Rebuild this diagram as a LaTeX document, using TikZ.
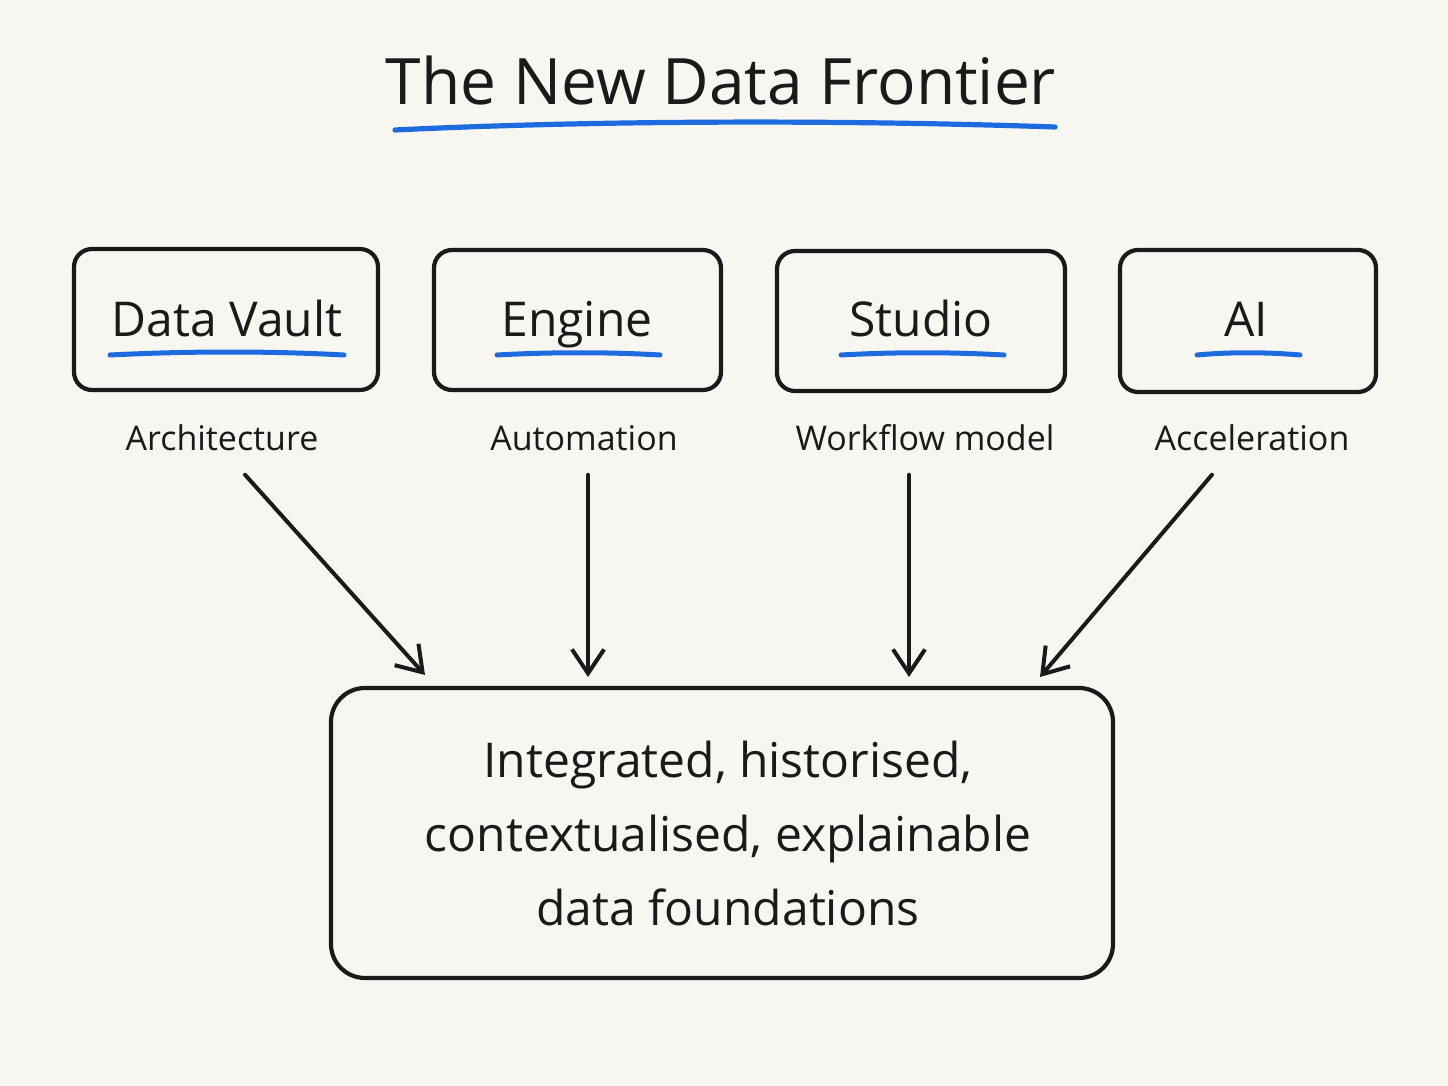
\documentclass[tikz,border=0pt]{standalone}
\usepackage{fontspec}
\setmainfont{Open Sans}
\usetikzlibrary{arrows.meta}
\definecolor{bg}{HTML}{F8F6F1}
\definecolor{ink}{HTML}{1A1A1A}
\definecolor{pen}{HTML}{1E6BE0}
\begin{document}
\begin{tikzpicture}[x=0.5pt,y=-0.5pt,
  box/.style={draw=ink,line width=2.1pt,rounded corners=9pt,inner sep=0pt},
  boxtext/.style={text=ink,font=\fontsize{24}{28}\selectfont,inner sep=0pt,anchor=base},
  labtext/.style={text=ink,font=\fontsize{17}{22}\selectfont,inner sep=0pt,anchor=base},
  penline/.style={draw=pen,line width=2.5pt,line cap=round},
  arr/.style={draw=ink,line width=2pt,line cap=round,-{Straight Barb[length=12pt,width=16pt,line width=2pt]}}]
\fill[bg] (0,0) rectangle (1448,1086);
\useasboundingbox (0,0) rectangle (1448,1086);
% title
\node[text=ink,font=\fontsize{32}{40}\selectfont,inner sep=0pt,anchor=base] (title) at (721,105) {The New Data Frontier};
\draw[penline,line width=2.6pt] (395,130) .. controls (600,120) and (850,120) .. (1055,127);
% boxes
\node[box,minimum width=152pt,minimum height=70.5pt] (b1) at (226,319.5) {};
\node[box,minimum width=143.5pt,minimum height=70pt] (b2) at (577.5,320) {};
\node[box,minimum width=144pt,minimum height=70pt] (b3) at (921,321) {};
\node[box,minimum width=128pt,minimum height=71pt] (b4) at (1248,321) {};
\node[boxtext] (t1) at (227,336) {Data Vault};
\node[boxtext] (t2) at (577,336) {Engine};
\node[boxtext] (t3) at (921,336) {Studio};
\node[boxtext] (t4) at (1246,336) {AI};
\draw[penline] (110,355) .. controls (190,351) and (270,351) .. (344,355);
\draw[penline] (497,355) .. controls (550,352) and (610,352) .. (660,355);
\draw[penline] (841,355) .. controls (895,352) and (950,352) .. (1004,355);
\draw[penline] (1197,355) .. controls (1230,352) and (1265,352) .. (1300,355);
% labels
\node[labtext] (l1) at (222,450) {Architecture};
\node[labtext] (l2) at (584,450) {Automation};
\node[labtext] (l3) at (925,450) {Workflow model};
\node[labtext] (l4) at (1252,450) {Acceleration};
% bottom box
\node[box,rounded corners=17pt,minimum width=391pt,minimum height=145pt] (out) at (722,833) {};
\node[text=ink,font=\fontsize{24}{37}\selectfont,inner sep=0pt,align=center] (outtext) at (728,833)
  {Integrated, historised,\\contextualised, explainable\\data foundations};
% arrows
\coordinate (e1) at (425,675);
\coordinate (e2) at (588,677);
\coordinate (e3) at (909,677);
\coordinate (e4) at (1040,677);
\draw[arr] ([xshift=11.5pt,yshift=-12pt]l1.south) -- (e1);
\draw[arr] ([xshift=2pt,yshift=-12pt]l2.south) -- (e2);
\draw[arr] ([xshift=-8pt,yshift=-12pt]l3.south) -- (e3);
\draw[arr] ([xshift=-20pt,yshift=-12pt]l4.south) -- (e4);
\end{tikzpicture}
\end{document}
